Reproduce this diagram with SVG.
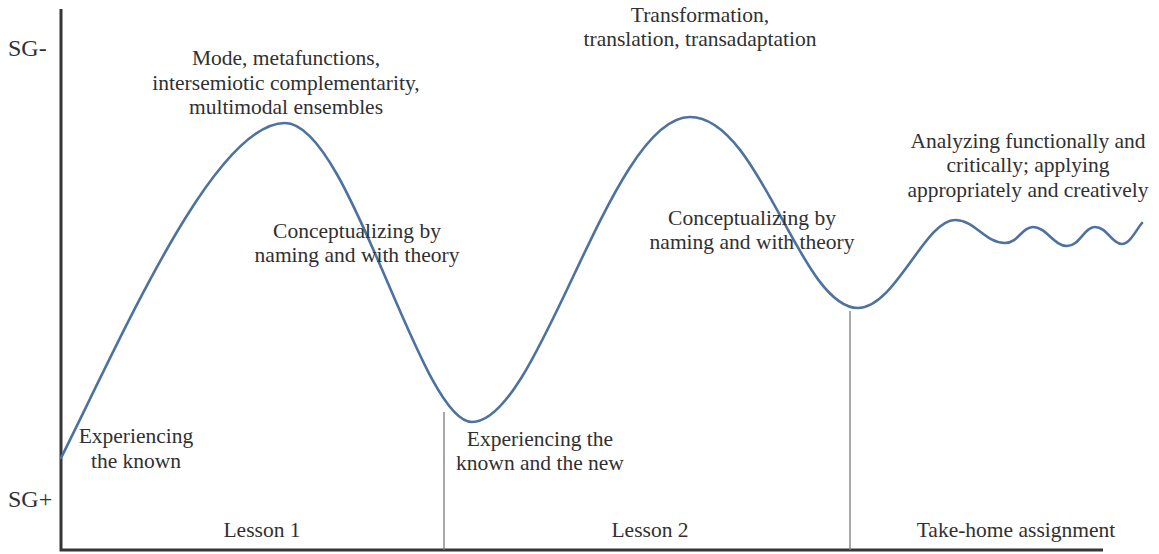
<svg xmlns="http://www.w3.org/2000/svg" width="1159" height="554" viewBox="0 0 1159 554">
  <style>
    .lbl { font-family: "Liberation Serif", "Times New Roman", serif; font-size: 21.5px; fill: #303030; text-anchor: middle; }
    .axislbl { font-family: "Liberation Serif", "Times New Roman", serif; font-size: 24px; fill: #303030; }
    .axis { stroke: #363636; stroke-width: 3; fill: none; }
    .divider { stroke: #7a7a7a; stroke-width: 1.3; fill: none; }
    .wave { stroke: #4d72a0; stroke-width: 2.6; fill: none; stroke-linecap: round; stroke-linejoin: round; }
  </style>
  <rect width="1159" height="554" fill="#ffffff"/>

  <!-- axes -->
  <g id="axes">
    <path class="axis" d="M61,9 V550 H1103"/>
    <text class="axislbl" x="8" y="56">SG-</text>
    <text class="axislbl" x="8" y="507">SG+</text>
  </g>

  <!-- section dividers -->
  <g id="dividers">
    <line class="divider" x1="444" y1="412" x2="444" y2="550"/>
    <line class="divider" x1="850" y1="311" x2="850" y2="550"/>
  </g>

  <!-- semantic wave -->
  <g id="connectors">
    <path class="wave" d="M61,458
      C125,330 215,123 285,123
      C350,123 420,422 472,422
      C540,422 610,117 690,117
      C760,117 800,308 858,308
      C895,308 925,220 955,220
      C975,220 985,243 1005,243
      C1018,243 1022,227 1033,227
      C1046,227 1054,246 1067,246
      C1080,246 1084,227 1095,227
      C1107,227 1112,244 1122,244
      C1130,244 1136,230 1142,223"/>
  </g>

  <g id="experiencing-known">
    <text class="lbl" x="136" y="443">Experiencing</text>
    <text class="lbl" x="136" y="468">the known</text>
  </g>

  <g id="mode-metafunctions">
    <text class="lbl" x="286" y="65">Mode, metafunctions,</text>
    <text class="lbl" x="286" y="90">intersemiotic complementarity,</text>
    <text class="lbl" x="286" y="114">multimodal ensembles</text>
  </g>

  <g id="conceptualizing-1">
    <text class="lbl" x="357" y="238">Conceptualizing by</text>
    <text class="lbl" x="357" y="262">naming and with theory</text>
  </g>

  <g id="experiencing-new">
    <text class="lbl" x="540" y="446">Experiencing the</text>
    <text class="lbl" x="540" y="470">known and the new</text>
  </g>

  <g id="transformation">
    <text class="lbl" x="700" y="22">Transformation,</text>
    <text class="lbl" x="700" y="46">translation, transadaptation</text>
  </g>

  <g id="conceptualizing-2">
    <text class="lbl" x="752" y="225">Conceptualizing by</text>
    <text class="lbl" x="752" y="249">naming and with theory</text>
  </g>

  <g id="analyzing">
    <text class="lbl" x="1028" y="148">Analyzing functionally and</text>
    <text class="lbl" x="1028" y="172">critically; applying</text>
    <text class="lbl" x="1028" y="197">appropriately and creatively</text>
  </g>

  <g id="sections">
    <text class="lbl" x="262" y="537">Lesson 1</text>
    <text class="lbl" x="650" y="537">Lesson 2</text>
    <text class="lbl" x="1016" y="537">Take-home assignment</text>
  </g>
</svg>
